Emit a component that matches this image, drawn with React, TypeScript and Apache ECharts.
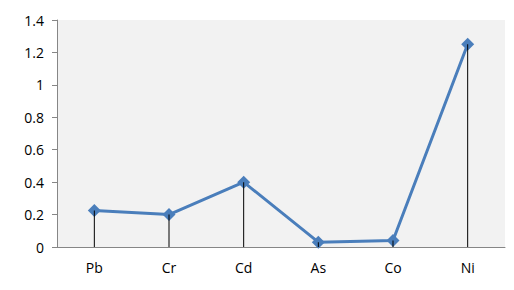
import React, { useEffect, useRef } from "react";
import * as echarts from "echarts";

const categories = ["Pb", "Cr", "Cd", "As", "Co", "Ni"];
const values = [0.225, 0.2, 0.4, 0.03, 0.04, 1.25];
const yTicks = [0, 0.2, 0.4, 0.6, 0.8, 1, 1.2, 1.4];

export default function App() {
  const ref = useRef<HTMLDivElement>(null);
  useEffect(() => {
    const chart = echarts.init(ref.current!, null, { renderer: "svg" });
    const font = "Open Sans";
    chart.setOption({
      animation: false,
      grid: {
        left: 57,
        top: 20,
        right: 9,
        bottom: 43,
        show: true,
        backgroundColor: "#f2f2f2",
        borderWidth: 0,
      },
      xAxis: {
        type: "category",
        data: categories,
        boundaryGap: true,
        axisLine: { lineStyle: { color: "#868686", width: 1 } },
        axisTick: { show: false },
        axisLabel: { color: "#000", fontSize: 14, fontFamily: font, margin: 13 },
      },
      yAxis: {
        type: "value",
        min: 0,
        max: yTicks[yTicks.length - 1],
        interval: 0.2,
        axisLine: { show: true, lineStyle: { color: "#868686", width: 1 } },
        axisTick: { show: true, length: 5, lineStyle: { color: "#868686" } },
        splitLine: { show: false },
        axisLabel: {
          color: "#000",
          fontSize: 14,
          fontFamily: font,
          margin: 13,
          formatter: (v: number) => String(Math.round(v * 10) / 10),
        },
      },
      series: [
        {
          type: "line",
          data: values,
          symbol: "diamond",
          symbolSize: 13,
          lineStyle: { color: "#4a7ebb", width: 3 },
          itemStyle: { color: "#4a7ebb" },
          z: 2,
        },
        {
          type: "bar",
          data: values,
          barWidth: 1,
          barGap: "-100%",
          itemStyle: { color: "#000" },
          z: 3,
        },
      ],
    });
    return () => chart.dispose();
  }, []);
  return <div ref={ref} style={{ width: 514, height: 290, position: "absolute", left: 0, top: 0 }} />;
}
